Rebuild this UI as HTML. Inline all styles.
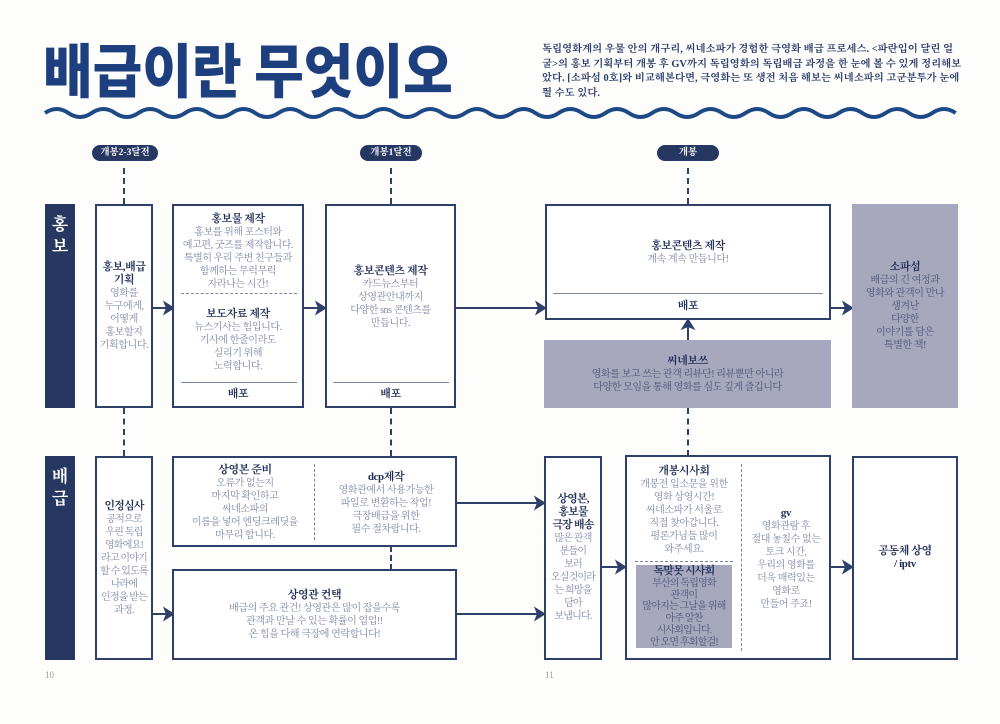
<!DOCTYPE html>
<html><head><meta charset="utf-8"><style>
*{margin:0;padding:0;box-sizing:border-box}
body{width:1000px;height:724px;background:#fdfdfb;position:relative;overflow:hidden;font-family:"Liberation Serif","Noto Serif CJK SC",serif;color:#7d86a6}
.a{position:absolute}
.box{position:absolute;border:2px solid #2e3f6a;background:#fff;display:flex;flex-direction:column;justify-content:center;align-items:center;text-align:center;font-size:10px;line-height:13px;letter-spacing:-0.4px;white-space:nowrap}
.f{background:#a7a8bd;border:none}
b{color:#1f2d57;font-weight:700;font-size:11px}
.side{position:absolute;background:#263862;color:#fff;font-weight:700;font-size:17px;line-height:22px;text-align:center;padding-top:10px}
.pill{position:absolute;background:#263862;color:#fff;font-size:9.5px;font-weight:700;height:16px;line-height:16px;border-radius:8px;text-align:center}
.dv{position:absolute;border-left:2px dashed #2e3f6a;width:0}
.t{position:absolute;text-align:center;font-size:10px;line-height:13px;letter-spacing:-0.4px;white-space:nowrap}
</style></head><body>
<div class="a" style="left:43px;top:33px;font-size:54px;font-weight:900;color:#1d3f7e;font-family:'Noto Sans CJK KR',sans-serif;letter-spacing:0px;line-height:64px;transform:scaleY(1.08);transform-origin:top left">배급이란 무엇이오</div>
<div class="a" style="left:542px;top:43px;width:420px;font-size:10.4px;line-height:14.5px;color:#2b3b6a;font-weight:700;letter-spacing:0px">독립영화계의 우물 안의 개구리, 씨네소파가 경험한 극영화 배급 프로세스. &lt;파란입이 달린 얼굴&gt;의 홍보 기획부터 개봉 후 GV까지 독립영화의 독립배급 과정을 한 눈에 볼 수 있게 정리해보았다. [소파섬 0호]와 비교해본다면, 극영화는 또 생전 처음 해보는 씨네소파의 고군분투가 눈에 띌 수도 있다.</div>
<svg class="a" style="left:0;top:0" width="1000" height="724">
<path id="w" fill="none" stroke="#1d4a86" stroke-width="4" d=""/>
<g fill="#2e3f6a" stroke="#2e3f6a" stroke-width="2">
<line x1="152" y1="308" x2="170" y2="308"/><path d="M173 308 l-8 -5 l2 5 l-2 5z"/>
<line x1="303" y1="308" x2="322" y2="308"/><path d="M325 308 l-8 -5 l2 5 l-2 5z"/>
<line x1="455" y1="308" x2="542" y2="308"/><path d="M545 308 l-8 -5 l2 5 l-2 5z"/>
<line x1="830" y1="308" x2="849" y2="308"/><path d="M852 308 l-8 -5 l2 5 l-2 5z"/>
<line x1="688" y1="340" x2="688" y2="323"/><path d="M688 320 l-5 8 l5 -2 l5 2z"/>
<line x1="152" y1="614" x2="170" y2="614"/><path d="M173 614 l-8 -5 l2 5 l-2 5z"/>
<line x1="456" y1="503" x2="541" y2="503"/><path d="M544 503 l-8 -5 l2 5 l-2 5z"/>
<line x1="456" y1="614" x2="541" y2="614"/><path d="M544 614 l-8 -5 l2 5 l-2 5z"/>
<line x1="601" y1="567" x2="622" y2="567"/><path d="M625 567 l-8 -5 l2 5 l-2 5z"/>
<line x1="830" y1="567" x2="849" y2="567"/><path d="M852 567 l-8 -5 l2 5 l-2 5z"/>
</g></svg>
<script>
var d="M45 113",i=0;for(var x=45;x<950;x+=23.35){d+=" q11.7 "+(i%2==0?-8:8)+" 23.35 0";i++;}
document.getElementById('w').setAttribute('d',d);
</script>
<div class="pill" style="left:92px;top:145px;width:66px">개봉2-3달전</div>
<div class="pill" style="left:360px;top:145px;width:62px">개봉1달전</div>
<div class="pill" style="left:657px;top:145px;width:62px">개봉</div>
<div class="dv" style="left:123px;top:168px;height:36px"></div>
<div class="dv" style="left:390px;top:168px;height:36px"></div>
<div class="dv" style="left:687px;top:168px;height:36px"></div>
<div class="dv" style="left:123px;top:408px;height:48px"></div>
<div class="dv" style="left:390px;top:408px;height:48px"></div>
<div class="dv" style="left:687px;top:408px;height:48px"></div>
<div class="dv" style="left:390px;top:546px;height:24px"></div>
<div class="side" style="left:45px;top:204px;width:30px;height:204px">홍<br>보</div>
<div class="side" style="left:45px;top:456px;width:30px;height:204px">배<br>급</div>
<div class="box" style="left:95px;top:204px;width:58px;height:204px"><b>홍보,배급<br>기획</b>영화를<br>누구에게,<br>어떻게<br>홍보할지<br>기획합니다.</div>
<div class="box" style="left:172px;top:204px;width:132px;height:204px;justify-content:flex-start"></div>
<div class="t" style="left:174px;top:213px;width:128px"><b>홍보물 제작</b><br>홍보를 위해 포스터와<br>예고편, 굿즈를 제작합니다.<br>특별히 우리 주변 친구들과<br>함께하는 무럭무럭<br>자라나는 시간!</div>
<div class="a" style="left:181px;top:293px;width:116px;border-top:1px dashed #7d86a6"></div>
<div class="t" style="left:174px;top:308px;width:128px"><b>보도자료 제작</b><br>뉴스기사는 힘입니다.<br>기사에 한줄이라도<br>실리기 위해<br>노력합니다.</div>
<div class="a" style="left:181px;top:382px;width:116px;border-top:1px solid #7d86a6"></div>
<div class="t" style="left:174px;top:388px;width:128px"><b>배포</b></div>
<div class="box" style="left:325px;top:204px;width:131px;height:204px"></div>
<div class="t" style="left:327px;top:265px;width:127px"><b>홍보콘텐츠 제작</b><br>카드뉴스부터<br>상영관안내까지<br>다양한 sns 콘텐츠를<br>만듭니다.</div>
<div class="a" style="left:333px;top:382px;width:116px;border-top:1px solid #7d86a6"></div>
<div class="t" style="left:327px;top:388px;width:127px"><b>배포</b></div>
<div class="box" style="left:545px;top:204px;width:286px;height:116px"></div>
<div class="t" style="left:547px;top:240px;width:282px"><b>홍보콘텐츠 제작</b><br>계속 계속 만듭니다!</div>
<div class="a" style="left:553px;top:293px;width:270px;border-top:1px solid #7d86a6"></div>
<div class="t" style="left:547px;top:300px;width:282px"><b>배포</b></div>
<div class="box f" style="left:544px;top:340px;width:287px;height:68px"><b>씨네보쓰</b><span style="color:#4a5378">영화를 보고 쓰는 관객 리뷰단! 리뷰뿐만 아니라<br>다양한 모임을 통해 영화를 심도 깊게 즐깁니다</span></div>
<div class="box f" style="left:852px;top:204px;width:106px;height:204px;color:#4a5378"><b>소파섬</b>배급의 긴 여정과<br>영화와 관객이 만나<br>생겨난<br>다양한<br>이야기를 담은<br>특별한 책!</div>
<div class="box" style="left:95px;top:456px;width:58px;height:204px;letter-spacing:-0.8px"><b>인정심사</b>공적으로<br>우린 독립<br>영화에요!<br>라고 이야기<br>할 수 있도록<br>나라에<br>인정을 받는<br>과정.</div>
<div class="box" style="left:172px;top:456px;width:285px;height:91px"></div>
<div class="t" style="left:176px;top:464px;width:138px"><b>상영본 준비</b><br>오류가 없는지<br>마지막 확인하고<br>씨네소파의<br>이름을 넣어 엔딩크레딧을<br>마무리 합니다.</div>
<div class="a" style="left:314px;top:464px;height:76px;border-left:1px dashed #7d86a6"></div>
<div class="t" style="left:318px;top:471px;width:136px"><b>dcp제작</b><br>영화관에서 사용가능한<br>파일로 변환하는 작업!<br>극장배급을 위한<br>필수 절차랍니다.</div>
<div class="box" style="left:172px;top:569px;width:285px;height:91px"><b>상영관 컨택</b>배급의 주요 관건! 상영관은 많이 잡을수록<br>관객과 만날 수 있는 확률이 업업!!<br>온 힘을 다해 극장에 연락합니다!</div>
<div class="box" style="left:544px;top:456px;width:58px;height:204px;letter-spacing:-0.8px"><b>상영본,<br>홍보물<br>극장 배송</b>많은 관객<br>분들이<br>보러<br>오실것이라<br>는 희망을<br>담아<br>보냅니다.</div>
<div class="box" style="left:625px;top:455px;width:206px;height:205px"></div>
<div class="t" style="left:628px;top:465px;width:112px"><b>개봉시사회</b><br>개봉전 입소문을 위한<br>영화 상영시간!<br>씨네소파가 서울로<br>직접 찾아갑니다.<br>평론가님들 많이<br>와주세요.</div>
<div class="a" style="left:635px;top:561px;width:98px;border-top:1px dashed #7d86a6"></div>
<div class="a" style="left:636px;top:565px;width:96px;height:83px;background:#a7a8bd"></div>
<div class="t" style="left:636px;top:566px;width:96px;color:#4a5378;line-height:11.8px;letter-spacing:-0.8px"><b>독맞못 시사회</b><br>부산의 독립영화<br>관객이<br>많아지는 그날을 위해<br>아주 알찬<br>시사회입니다.<br>안 오면 후회할걸!</div>
<div class="a" style="left:741px;top:464px;height:187px;border-left:1px dashed #7d86a6"></div>
<div class="t" style="left:743px;top:507px;width:86px"><b>gv</b><br>영화관람 후<br>절대 놓칠수 없는<br>토크 시간,<br>우리의 영화를<br>더욱 매력있는<br>영화로<br>만들어 주죠!</div>
<div class="box" style="left:852px;top:456px;width:106px;height:204px"><b>공동체 상영<br>/ iptv</b></div>
<div class="a" style="left:45px;top:670px;font-size:9px;color:#999">10</div>
<div class="a" style="left:545px;top:670px;font-size:9px;color:#999">11</div>
</body></html>
